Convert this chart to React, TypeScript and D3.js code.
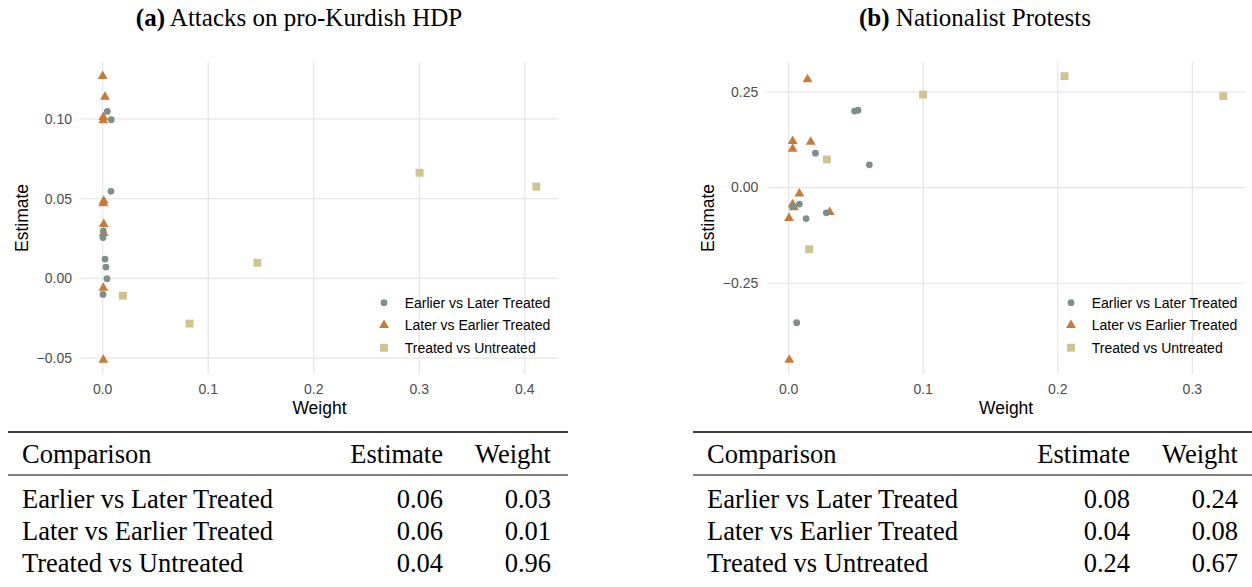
import React, { useEffect, useRef } from "react";
import * as d3 from "d3";

// legend / table row labels
const comparisons = ["Earlier vs Later Treated", "Later vs Earlier Treated", "Treated vs Untreated"];
const colors = ["#7c8f88", "#c87a37", "#cfc48e"];

// (a) Attacks on pro-Kurdish HDP
const hdpEarlierW = [0.0044, 0.0081, 0.0079, 0.0006, 0.0003, 0.0022, 0.0031, 0.0041, 0.0003];
const hdpEarlierE = [0.1046, 0.0994, 0.0546, 0.0298, 0.0256, 0.0121, 0.0071, -0.0002, -0.01];
const hdpLaterW = [0.0, 0.0022, 0.0006, 0.0006, 0.001, 0.0006, 0.001, 0.001, 0.0006, 0.0006];
const hdpLaterE = [0.1267, 0.1137, 0.101, 0.099, 0.0486, 0.047, 0.034, 0.0284, -0.006, -0.051];
const hdpUntreatedW = [0.0192, 0.0823, 0.1466, 0.3003, 0.4109];
const hdpUntreatedE = [-0.0108, -0.0283, 0.0098, 0.0662, 0.0575];
const hdpXTicks = [0, 0.1, 0.2, 0.3, 0.4];
const hdpYTicks = [-0.05, 0, 0.05, 0.1];
const hdpTableEstimate = ["0.06", "0.06", "0.04"];
const hdpTableWeight = ["0.03", "0.01", "0.96"];

// (b) Nationalist Protests
const natEarlierW = [0.049, 0.0516, 0.0199, 0.06, 0.003, 0.008, 0.013, 0.028, 0.006];
const natEarlierE = [0.2, 0.202, 0.0897, 0.0595, -0.05, -0.043, -0.081, -0.066, -0.353];
const natLaterW = [0.0141, 0.003, 0.003, 0.0164, 0.008, 0.003, 0.004, 0.0003, 0.0305, 0.0005];
const natLaterE = [0.2825, 0.121, 0.101, 0.119, -0.0157, -0.044, -0.052, -0.08, -0.064, -0.45];
const natUntreatedW = [0.0999, 0.0285, 0.0152, 0.205, 0.323];
const natUntreatedE = [0.243, 0.0735, -0.161, 0.291, 0.239];
const natXTicks = [0, 0.1, 0.2, 0.3];
const natYTicks = [-0.25, 0, 0.25];
const natTableEstimate = ["0.08", "0.04", "0.24"];
const natTableWeight = ["0.24", "0.08", "0.67"];

const sans = "'Liberation Sans', Arial, sans-serif";
const serif = "'Liberation Serif', 'Times New Roman', serif";

function pad(ext) {
  const r = ext[1] - ext[0];
  return [ext[0] - r * 0.05, ext[1] + r * 0.05];
}

function drawPanel(g, cfg) {
  const { left, top, w, h, series, xTicks, yTicks, yFmt } = cfg;
  const allW = series.flatMap((s) => s.w);
  const allE = series.flatMap((s) => s.e);
  const x = d3.scaleLinear().domain(pad(d3.extent(allW))).range([left, left + w]);
  const y = d3.scaleLinear().domain(pad(d3.extent(allE))).range([top + h, top]);

  // grid
  g.append("g").selectAll("line").data(xTicks).join("line")
    .attr("x1", (d) => x(d)).attr("x2", (d) => x(d))
    .attr("y1", top).attr("y2", top + h)
    .attr("stroke", "#e6e6e6").attr("stroke-width", 1.2);
  g.append("g").selectAll("line").data(yTicks).join("line")
    .attr("y1", (d) => y(d)).attr("y2", (d) => y(d))
    .attr("x1", left).attr("x2", left + w)
    .attr("stroke", "#e6e6e6").attr("stroke-width", 1.2);

  // tick labels
  g.append("g").selectAll("text").data(xTicks).join("text")
    .attr("x", (d) => x(d)).attr("y", top + h + 20)
    .attr("text-anchor", "middle")
    .style("font-family", sans).style("font-size", "14px").attr("fill", "#4d4d4d")
    .text((d) => d3.format(".1f")(d));
  g.append("g").selectAll("text").data(yTicks).join("text")
    .attr("x", left - 9).attr("y", (d) => y(d)).attr("dy", "0.35em")
    .attr("text-anchor", "end")
    .style("font-family", sans).style("font-size", "14px").attr("fill", "#4d4d4d")
    .text((d) => d3.format(yFmt)(d).replace("-", "\u2212"));

  // axis titles
  g.append("text").attr("x", left + w / 2).attr("y", top + h + 40)
    .attr("text-anchor", "middle")
    .style("font-family", sans).style("font-size", "17.5px").attr("fill", "#000")
    .text("Weight");
  g.append("text")
    .attr("transform", `translate(${left - 53},${top + h / 2}) rotate(-90)`)
    .attr("text-anchor", "middle")
    .style("font-family", sans).style("font-size", "17.5px").attr("fill", "#000")
    .text("Estimate");

  const shapes = [d3.symbolCircle, d3.symbolTriangle, d3.symbolSquare];
  const sizes = [36, 42, 62];
  const order = [1, 0, 2];
  order.forEach((k) => {
    const s = series[k];
    const pts = s.w.map((wv, i) => [wv, s.e[i]]);
    g.append("g").selectAll("path").data(pts).join("path")
      .attr("d", d3.symbol(shapes[k], sizes[k]))
      .attr("transform", (d) => `translate(${x(d[0])},${y(d[1])})`)
      .attr("fill", colors[k]);
  });

  // legend
  const lx = left + w - 174;
  const lg = g.append("g");
  comparisons.forEach((name, k) => {
    const ly = 302.7 + k * 22.5;
    lg.append("path")
      .attr("d", d3.symbol(shapes[k], sizes[k])())
      .attr("transform", `translate(${lx},${ly})`)
      .attr("fill", colors[k]);
    lg.append("text").attr("x", lx + 20.7).attr("y", ly).attr("dy", "0.35em")
      .style("font-family", sans).style("font-size", "14px").attr("fill", "#000")
      .text(name);
  });
}

function drawTable(g, cfg) {
  const { x0, x1, estimates, weights } = cfg;
  const textLeft = x0 + 14;
  const estRight = x1 - 125;
  const wRight = x1 - 17;
  g.append("line").attr("x1", x0).attr("x2", x1).attr("y1", 432).attr("y2", 432)
    .attr("stroke", "#000").attr("stroke-width", 1.6);
  g.append("line").attr("x1", x0).attr("x2", x1).attr("y1", 475).attr("y2", 475)
    .attr("stroke", "#000").attr("stroke-width", 1);
  const font = (sel) => sel.style("font-family", serif).style("font-size", "26.5px").attr("fill", "#000");
  font(g.append("text").attr("x", textLeft).attr("y", 463).text("Comparison"));
  font(g.append("text").attr("x", estRight).attr("y", 463).attr("text-anchor", "end").text("Estimate"));
  font(g.append("text").attr("x", wRight).attr("y", 463).attr("text-anchor", "end").text("Weight"));
  comparisons.forEach((name, i) => {
    const by = 508 + i * 32;
    font(g.append("text").attr("x", textLeft).attr("y", by).text(name));
    font(g.append("text").attr("x", estRight).attr("y", by).attr("text-anchor", "end").text(estimates[i]));
    font(g.append("text").attr("x", wRight).attr("y", by).attr("text-anchor", "end").text(weights[i]));
  });
}

function drawTitle(g, cx, letter, label) {
  const t = g.append("text").attr("x", cx).attr("y", 26).attr("text-anchor", "middle")
    .style("font-family", serif).style("font-size", "25px").attr("fill", "#000");
  t.append("tspan").style("font-weight", "bold").text(`(${letter})`);
  t.append("tspan").text(` ${label}`);
}

export default function App() {
  const ref = useRef(null);

  useEffect(() => {
    const svg = d3.select(ref.current);
    svg.selectAll("*").remove();
    const g = svg.append("g");

    drawTitle(g, 299, "a", "Attacks on pro-Kurdish HDP");
    drawTitle(g, 975, "b", "Nationalist Protests");

    drawPanel(g, {
      left: 81, top: 62, w: 477, h: 312,
      series: [
        { w: hdpEarlierW, e: hdpEarlierE },
        { w: hdpLaterW, e: hdpLaterE },
        { w: hdpUntreatedW, e: hdpUntreatedE },
      ],
      xTicks: hdpXTicks, yTicks: hdpYTicks, yFmt: ".2f",
    });
    drawPanel(g, {
      left: 767.3, top: 62, w: 477.7, h: 312,
      series: [
        { w: natEarlierW, e: natEarlierE },
        { w: natLaterW, e: natLaterE },
        { w: natUntreatedW, e: natUntreatedE },
      ],
      xTicks: natXTicks, yTicks: natYTicks, yFmt: ".2f",
    });

    drawTable(g, { x0: 8, x1: 568, estimates: hdpTableEstimate, weights: hdpTableWeight });
    drawTable(g, { x0: 693, x1: 1255, estimates: natTableEstimate, weights: natTableWeight });
  }, []);

  return (
    <div style={{ position: "absolute", left: 0, top: 0 }}>
      <svg ref={ref} width={1252} height={587} style={{ display: "block", background: "#fff" }} />
    </div>
  );
}
